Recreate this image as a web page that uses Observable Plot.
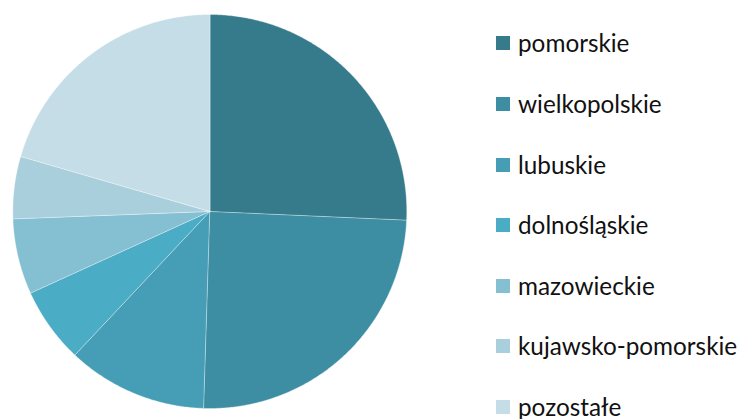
<!DOCTYPE html>
<html>
<head>
<meta charset="utf-8">
<script src="https://cdn.jsdelivr.net/npm/d3@7"></script>
<script src="https://cdn.jsdelivr.net/npm/@observablehq/plot@0.6"></script>
<style>
  html, body { margin: 0; padding: 0; background: #fff; }
  #wrap { position: relative; width: 745px; height: 419px; overflow: hidden; }
  #chart { position: absolute; left: 0; top: 0; }
  #legend { position: absolute; left: 496px; top: 0; font-family: Lato, "Noto Sans", sans-serif; color: #111; }
  .item { position: absolute; left: 0; display: flex; align-items: center; white-space: nowrap; height: 30px; }
  .sw { width: 14px; height: 14px; margin-right: 8px; flex: none; }
</style>
</head>
<body>
<div id="wrap"><div id="chart"></div><div id="legend"></div></div>
<script>
const categories = ["pomorskie", "wielkopolskie", "lubuskie", "dolnośląskie", "mazowieckie", "kujawsko-pomorskie", "pozostałe"];
const shares = [25.7, 24.8, 11.5, 6.2, 6.2, 5.1, 20.5];
const colors = ["#357B8C", "#3D8DA3", "#459EB6", "#4BACC6", "#84BFD2", "#A9CFDD", "#C5DDE6"];

const W = 440, H = 419;
const cx = 209.3, cy = 211, R = 197;

const data = categories.map((name, i) => ({name, value: shares[i]}));
const arcs = d3.pie().value(d => d.value).sort(null)(data);

// Build sector polygons (pixel space) from the pie angles
const features = arcs.map(a => {
  const ring = [[cx, cy]];
  const steps = Math.max(2, Math.ceil((a.endAngle - a.startAngle) / (Math.PI / 360)));
  for (let k = 0; k <= steps; k++) {
    const t = a.startAngle + (a.endAngle - a.startAngle) * k / steps;
    ring.push([cx + R * Math.sin(t), cy - R * Math.cos(t)]);
  }
  ring.push([cx, cy]);
  return {type: "Feature", properties: {name: a.data.name}, geometry: {type: "Polygon", coordinates: [ring]}};
});

const plot = Plot.plot({
  width: W,
  height: H,
  margin: 0,
  projection: {type: "identity"},
  color: {domain: categories, range: colors},
  marks: [
    Plot.geo(features, {fill: d => d.properties.name, stroke: "#ffffff", strokeWidth: 0.6, strokeOpacity: 0.6})
  ]
});
document.getElementById("chart").appendChild(plot);

const colorScale = plot.scale("color");
const legend = document.getElementById("legend");
const legendTop = 43.3, legendStep = 60.6;
categories.forEach((name, i) => {
  const item = document.createElement("div");
  item.className = "item";
  item.style.top = (legendTop + legendStep * i - 15) + "px";
  const sw = document.createElement("span");
  sw.className = "sw";
  sw.style.background = colorScale.apply(name);
  const tx = document.createElement("span");
  tx.textContent = name;
  tx.style.fontSize = "24.3px";
  tx.style.lineHeight = "30px";
  item.appendChild(sw);
  item.appendChild(tx);
  legend.appendChild(item);
});
</script>
</body>
</html>
